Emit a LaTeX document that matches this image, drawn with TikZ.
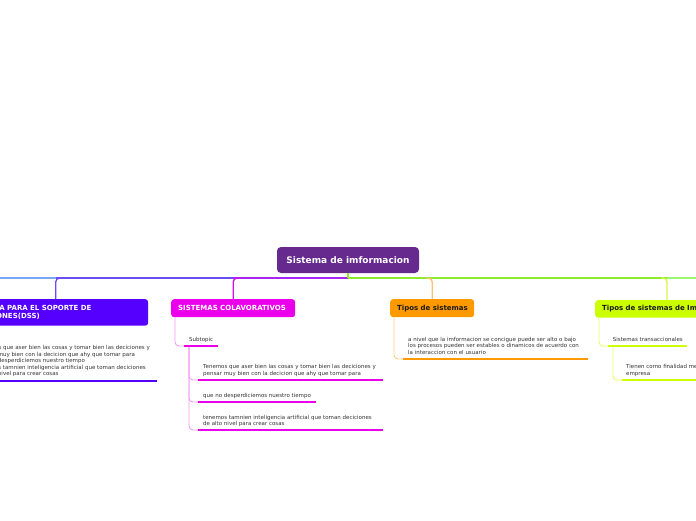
\documentclass[tikz,border=0pt]{standalone}
\usepackage{fontspec}
\setmainfont{DejaVu Sans}
\definecolor{rootc}{HTML}{662A8E}
\definecolor{dssc}{HTML}{5500FF}
\definecolor{colabc}{HTML}{EA00EA}
\definecolor{orangec}{HTML}{FF9900}
\definecolor{yellowc}{HTML}{CCFF00}
\definecolor{hlightblue}{HTML}{7BA7F2}
\definecolor{hviolet}{HTML}{6A4DF2}
\definecolor{hpurple}{HTML}{A826F0}
\definecolor{hgreen}{HTML}{8CEB2E}
\definecolor{hlightgreen}{HTML}{99F777}
\definecolor{dropdss}{HTML}{7048F0}
\definecolor{dropcolab}{HTML}{D010E8}
\definecolor{droporange}{HTML}{FFC070}
\definecolor{dropyellow}{HTML}{DDF542}
\definecolor{lmag}{HTML}{F29CF2}
\definecolor{lorange}{HTML}{FFCC88}
\definecolor{lyellow}{HTML}{E6FF6A}
\definecolor{textgray}{HTML}{333333}
\definecolor{darktext}{HTML}{1A1A1A}
\begin{document}
\begin{tikzpicture}[x=1pt,y=-1pt,
  rootbox/.style={fill=rootc, text=white, rounded corners=4pt, minimum width=142pt, minimum height=26pt, inner sep=0pt, font=\bfseries\fontsize{9}{10}\selectfont},
  titlebox/.style={rounded corners=3pt, anchor=north west, inner xsep=7pt, inner ysep=0pt, minimum height=18pt, font=\bfseries\fontsize{7}{7.7}\selectfont, align=left},
  body/.style={anchor=base west, inner sep=0pt, font=\fontsize{5.5}{6.7}\selectfont, text=textgray},
  mainline/.style={line width=1.6pt},
  drop/.style={line width=1.3pt, rounded corners=4pt},
  conn/.style={line width=0.9pt, rounded corners=4pt},
  uline/.style={line width=2pt}
]
\useasboundingbox (0,0) rectangle (696,520);
\clip (0,0) rectangle (696,520);

% root
\node[rootbox] (root) at (348,260) {Sistema de imformacion};
\coordinate (hub) at (348,278);

% boxes
\node[titlebox, fill=dssc, text=white, text width=171pt, minimum height=26.5pt] (dss) at (-37,299) {SISTEMA PARA EL SOPORTE DE\\DECISIONES(DSS)};
\node[titlebox, fill=colabc, text=white, text width=110pt] (colab) at (171,299) {\mbox{SISTEMAS COLAVORATIVOS}};
\node[titlebox, fill=orangec, text=darktext, text width=70pt] (tipos) at (390,299) {\mbox{Tipos de sistemas}};
\node[titlebox, fill=yellowc, text=darktext, text width=130pt, minimum height=17.5pt] (tiposi) at (595,300) {\mbox{Tipos de sistemas de Imformacion}};

% main horizontal lines
\draw[mainline, hlightblue] (hub) -- (-20,278);
\draw[mainline, hviolet] (hub) -- (dss.north |- hub);
\draw[mainline, hpurple] (hub) -- (colab.north |- hub);
\draw[mainline, hlightgreen] (hub) -- (720,278);
\draw[mainline, hgreen] (hub) -- ([xshift=72pt]tiposi.north west |- hub);
\draw[mainline, hgreen] (root.south) -- (hub);

% drops
\draw[drop, dropdss] (dss.north) |- ([xshift=6pt]dss.north |- hub);
\draw[drop, dropcolab] (colab.north) |- ([xshift=6pt]colab.north |- hub);
\draw[drop, droporange] (tipos.north) |- ([xshift=-6pt]tipos.north |- hub);
\draw[drop, dropyellow] ([xshift=72pt]tiposi.north west) |- ([xshift=66pt]tiposi.north west |- hub);

% ---- DSS body
\node[body] (d1) at (-23,349.5) {Tenemos que aser bien las cosas y tomar bien las deciciones y};
\node[body] (d2) at (-23,356) {pensar muy bien con la decicion  que ahy que tomar para};
\node[body] (d3) at (-23,362.5) {que no desperdiciemos nuestro tiempo};
\node[body] (d4) at (-23,369) {tenemos tamnien inteligencia artificial que toman deciciones};
\node[body] (d5) at (-23,375.5) {de alto nivel para crear cosas};
\coordinate (du1) at (-30,381);
\coordinate (du2) at (157,381);
\draw[uline, dssc] (du1) -- (du2);

% ---- SISTEMAS COLAVORATIVOS
\coordinate (s0a) at (184,346);
\coordinate (s0b) at (218,346);
\coordinate (sv) at (189,346);
\coordinate (s1a) at (198,380);
\coordinate (s1b) at (383,380);
\coordinate (s2a) at (198,402);
\coordinate (s2b) at (315.5,402);
\coordinate (s3a) at (198,430);
\coordinate (s3b) at (383,430);
\draw[conn, lmag] ([xshift=4pt]colab.south west) |- (s0a);
\draw[conn, lmag] (sv) |- (s1a);
\draw[conn, lmag] (sv) |- (s2a);
\draw[conn, lmag] (sv) |- (s3a);
\draw[uline, colabc] (s0a) -- (s0b);
\draw[uline, colabc] (s1a) -- (s1b);
\draw[uline, colabc] (s2a) -- (s2b);
\draw[uline, colabc] (s3a) -- (s3b);
\node[body] (c0) at (189,341) {Subtopic};
\node[body] (c1) at (203,368) {Tenemos que aser bien las cosas y tomar bien las deciciones y};
\node[body] (c2) at (203,375) {pensar muy bien con la decicion  que ahy que tomar para};
\node[body] (c3) at (203,397) {que no desperdiciemos nuestro tiempo};
\node[body] (c4) at (203,419) {tenemos tamnien inteligencia artificial que toman deciciones};
\node[body] (c5) at (203,425.5) {de alto nivel para crear cosas};

% ---- Tipos de sistemas
\coordinate (o1a) at (403,359);
\coordinate (o1b) at (588,359);
\draw[conn, lorange] ([xshift=4pt]tipos.south west) |- (o1a);
\draw[uline, orangec] (o1a) -- (o1b);
\node[body] (o1) at (408,341) {a nivel que la imformacion se concigue puede ser alto o bajo};
\node[body] (o2) at (408,347.7) {los procesos pueden ser estables o dinamicos  de acuerdo con};
\node[body] (o3) at (408,354.4) {la interaccion con el usuario};

% ---- Tipos de sistemas de Imformacion
\coordinate (y0a) at (608,346);
\coordinate (y0b) at (687,346);
\coordinate (yv) at (613,346);
\coordinate (y1a) at (622,380);
\coordinate (y1b) at (720,380);
\draw[conn, lyellow] ([xshift=4pt]tiposi.south west) |- (y0a);
\draw[conn, lyellow] (yv) |- (y1a);
\draw[uline, yellowc] (y0a) -- (y0b);
\draw[uline, yellowc] (y1a) -- (y1b);
\node[body] (y0) at (612.7,341) {Sistemas transaccionales};
\node[body] (y1) at (626,368.5) {Tienen como finalidad mejorar las actividades rutinarias de una};
\node[body] (y2) at (626,375) {empresa};
\end{tikzpicture}
\end{document}
